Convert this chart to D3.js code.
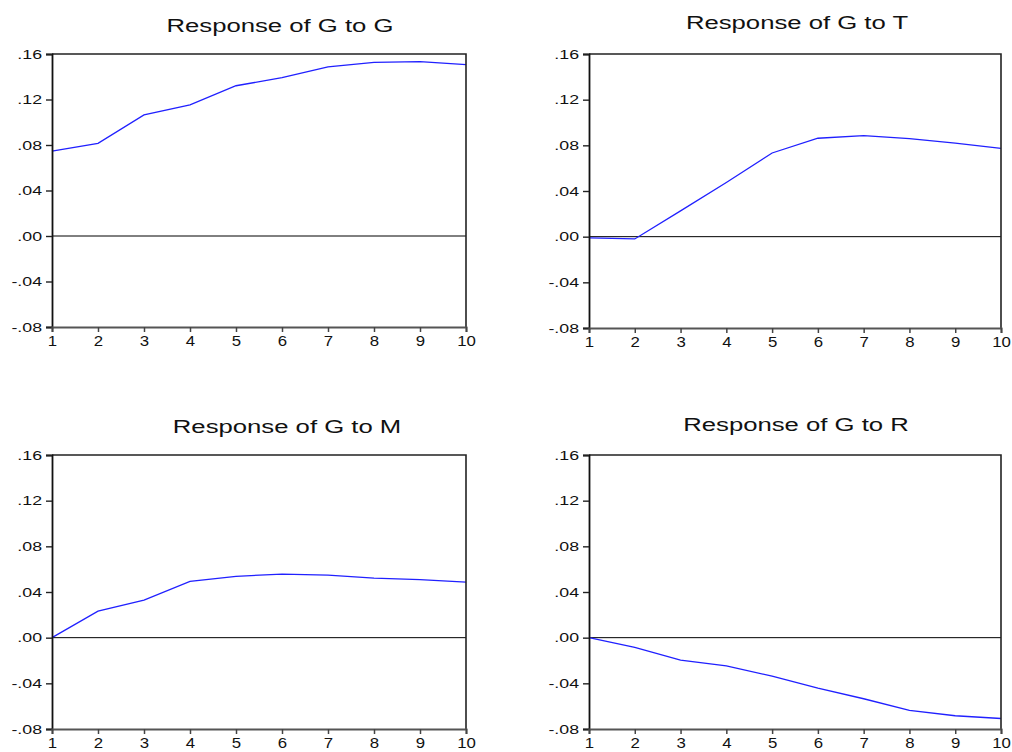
<!DOCTYPE html>
<html>
<head>
<meta charset="utf-8">
<script src="https://cdn.jsdelivr.net/npm/d3@7"></script>
<style>
  body { margin: 0; background: #fff; }
  svg { display: block; }
  text { font-family: "Liberation Sans", Arial, sans-serif; fill: #111; }
</style>
</head>
<body>
<svg id="chart" width="1012" height="752"></svg>
<script>
// Impulse responses of G, periods 1..10
const periods = [1, 2, 3, 4, 5, 6, 7, 8, 9, 10];
const respGtoG = [0.0747, 0.0815, 0.1064, 0.1152, 0.1321, 0.1392, 0.1486, 0.1527, 0.1533, 0.1506];
const respGtoT = [-0.001, -0.002, 0.0226, 0.0475, 0.0733, 0.0862, 0.0885, 0.0859, 0.0820, 0.0774];
const respGtoM = [0.0000, 0.0233, 0.0329, 0.0493, 0.0537, 0.0557, 0.0548, 0.0522, 0.0508, 0.0487];
const respGtoR = [0.0000, -0.0086, -0.0197, -0.0248, -0.0337, -0.0442, -0.0535, -0.0636, -0.0684, -0.0708];

const titles = ["Response of G to G", "Response of G to T", "Response of G to M", "Response of G to R"];
const yTickValues = [-0.08, -0.04, 0, 0.04, 0.08, 0.12, 0.16];
const yTickLabels = ["-.08", "-.04", ".00", ".04", ".08", ".12", ".16"];

const series = [respGtoG, respGtoT, respGtoM, respGtoR];

// panel frames: left, right, top, bottom, title centre
const frames = [
  { x0: 52,  x1: 466,  y0: 54,  y1: 327, tx: 280, ty: 32 },
  { x0: 589, x1: 1001, y0: 54,  y1: 328, tx: 797, ty: 29 },
  { x0: 52,  x1: 466,  y0: 455, y1: 729, tx: 287, ty: 433 },
  { x0: 589, x1: 1001, y0: 455, y1: 729, tx: 796, ty: 431 }
];

const svg = d3.select("#chart");
const labelFor = new Map(yTickValues.map((v, i) => [v, yTickLabels[i]]));
const STRETCH = 1.42;
const XSTRETCH = 1.12;

frames.forEach((f, i) => {
  const x = d3.scaleLinear().domain([1, 10]).range([f.x0, f.x1]);
  const y = d3.scaleLinear().domain([-0.08, 0.16]).range([f.y1, f.y0]);
  const g = svg.append("g");

  // zero reference line
  g.append("line")
    .attr("x1", f.x0).attr("x2", f.x1)
    .attr("y1", y(0)).attr("y2", y(0))
    .attr("stroke", "#000").attr("stroke-width", 1);

  // response line
  const line = d3.line().x((d, j) => x(periods[j])).y(d => y(d));
  g.append("path")
    .datum(series[i])
    .attr("d", line)
    .attr("fill", "none")
    .attr("stroke", "#2020ff")
    .attr("stroke-width", 1.3);

  // frame: top and right edges
  g.append("path")
    .attr("d", `M${f.x0},${f.y0}H${f.x1}V${f.y1}`)
    .attr("fill", "none").attr("stroke", "#222").attr("stroke-width", 1.6);

  // left axis
  const ya = g.append("g")
    .attr("transform", `translate(${f.x0},0)`)
    .call(d3.axisLeft(y).tickValues(yTickValues).tickSize(6).tickPadding(4)
      .tickFormat(v => labelFor.get(v)));
  ya.select(".domain").attr("stroke", "#111").attr("stroke-width", 1.8);
  ya.selectAll(".tick line").attr("stroke", "#222").attr("stroke-width", 1.4);
  ya.selectAll(".tick text")
    .attr("font-size", 12.5)
    .attr("font-family", "'Liberation Sans', Arial, sans-serif")
    .attr("fill", "#222")
    .attr("x", -10 / STRETCH)
    .attr("transform", `scale(${STRETCH},1)`);

  // bottom axis
  const xa = g.append("g")
    .attr("transform", `translate(0,${f.y1})`)
    .call(d3.axisBottom(x).tickValues(periods).tickSize(5).tickPadding(3)
      .tickFormat(d3.format("d")));
  xa.select(".domain").attr("stroke", "#555").attr("stroke-width", 2);
  xa.selectAll(".tick line").attr("stroke", "#444").attr("stroke-width", 1.5);
  xa.selectAll(".tick text")
    .attr("font-size", 15)
    .attr("font-family", "'Liberation Sans', Arial, sans-serif")
    .attr("fill", "#222")
    .attr("transform", function () {
      const t = d3.select(this.parentNode).attr("transform");
      return `scale(${XSTRETCH},1)`;
    })
    .attr("x", 0);

  // title
  svg.append("text")
    .attr("transform", `translate(${f.tx},${f.ty}) scale(1.39,1)`)
    .attr("text-anchor", "middle")
    .attr("font-size", 18.5)
    .attr("fill", "#000")
    .text(titles[i]);
});
</script>
</body>
</html>
